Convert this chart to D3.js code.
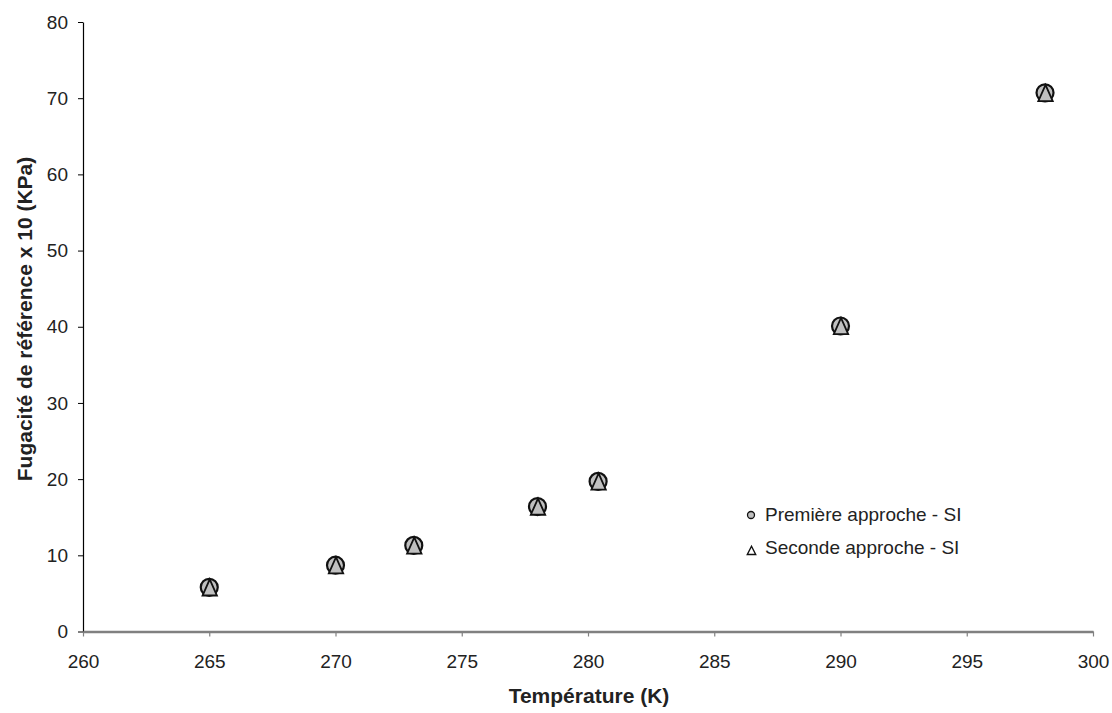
<!DOCTYPE html>
<html><head><meta charset="utf-8">
<script src="https://cdn.jsdelivr.net/npm/d3@7"></script>
<style>
html,body{margin:0;padding:0;background:#fff;}
svg{display:block;font-family:"Liberation Sans",Arial,sans-serif;}
</style></head>
<body>
<svg id="chart" width="1112" height="713"></svg>
<script>
const temperatures = [265, 270, 273.1, 278, 280.4, 290, 298.1];
const premiereApproche = [5.8, 8.7, 11.3, 16.4, 19.7, 40.1, 70.7];
const secondeApproche = [5.8, 8.7, 11.3, 16.4, 19.7, 40.1, 70.7];
const xTicks = [260, 265, 270, 275, 280, 285, 290, 295, 300];
const yTicks = [0, 10, 20, 30, 40, 50, 60, 70, 80];
const seriesNames = ["Première approche - SI", "Seconde approche - SI"];
const xTitle = "Température (K)";
const yTitle = "Fugacité de référence x 10 (KPa)";

(function () {
const svg = d3.select("#chart");
const mLeft = 83, mRight = 1093, mTop = 22, mBottom = 631.5;
const x = d3.scaleLinear().domain([260, 300]).range([mLeft, mRight]);
const y = d3.scaleLinear().domain([0, 80]).range([mBottom, mTop]);
const FONT = "Liberation Sans, Arial, sans-serif";

// Y axis
const yAxis = svg.append("g").attr("transform", `translate(${mLeft},0)`)
  .call(d3.axisLeft(y).tickValues(yTicks).tickSize(5).tickPadding(10).tickSizeOuter(0));
yAxis.attr("font-size", 19).attr("font-family", FONT);
yAxis.select(".domain").attr("stroke", "#000").attr("stroke-width", 1.2);
yAxis.selectAll(".tick line").attr("stroke", "#000").attr("stroke-width", 1);
yAxis.selectAll(".tick text").attr("fill", "#222");

// X axis
const xAxis = svg.append("g").attr("transform", `translate(0,${mBottom})`)
  .call(d3.axisBottom(x).tickValues(xTicks).tickSize(5).tickPadding(18).tickSizeOuter(0));
xAxis.attr("font-size", 19).attr("font-family", FONT);
xAxis.select(".domain").attr("stroke", "#808080").attr("stroke-width", 2.5);
xAxis.selectAll(".tick line").attr("stroke", "#808080").attr("stroke-width", 1.2);
xAxis.selectAll(".tick text").attr("fill", "#222");

// Titles
svg.append("text").attr("x", 589).attr("y", 703).attr("text-anchor", "middle")
  .attr("font-family", FONT).attr("font-size", 21).attr("font-weight", "bold").attr("fill", "#222").text(xTitle);
svg.append("text").attr("transform", `translate(32,319) rotate(-90)`)
  .attr("text-anchor", "middle").attr("font-family", FONT).attr("font-size", 21).attr("font-weight", "bold")
  .attr("fill", "#222").text(yTitle);

// Series 1: circles
const circleSym = d3.symbol().type(d3.symbolCircle).size(Math.PI * 8.5 * 8.5);
svg.append("g").selectAll("path").data(temperatures.map((t, i) => [t, premiereApproche[i]]))
  .join("path").attr("d", circleSym)
  .attr("transform", d => `translate(${x(d[0])},${y(d[1])})`)
  .attr("fill", "#c0c0c0").attr("stroke", "#111").attr("stroke-width", 2.2);

// Series 2: triangles
function triPath(w, top, bot) {
  return `M0,${-top}L${w},${bot}L${-w},${bot}Z`;
}
svg.append("g").selectAll("path").data(temperatures.map((t, i) => [t, secondeApproche[i]]))
  .join("path").attr("d", triPath(7.2, 8, 8.2))
  .attr("transform", d => `translate(${x(d[0]) + 0.5},${y(d[1])})`)
  .attr("fill", "#c0c0c0").attr("stroke", "#111").attr("stroke-width", 1.8)
  .attr("stroke-linejoin", "miter");

// Legend
const lg = svg.append("g").attr("font-family", FONT);
lg.append("path").attr("d", d3.symbol().type(d3.symbolCircle).size(Math.PI * 3.5 * 3.5))
  .attr("transform", "translate(751,515)").attr("fill", "#c0c0c0").attr("stroke", "#111").attr("stroke-width", 1.3);
lg.append("path").attr("d", triPath(4.2, 4.3, 4.0))
  .attr("transform", "translate(751.5,550.5)").attr("fill", "#fff").attr("stroke", "#111").attr("stroke-width", 1.4);
lg.append("text").attr("x", 765).attr("y", 521).attr("font-size", 19).attr("fill", "#222").text(seriesNames[0]);
lg.append("text").attr("x", 765).attr("y", 553.5).attr("font-size", 19).attr("fill", "#222").text(seriesNames[1]);
})();
</script>
</body></html>
